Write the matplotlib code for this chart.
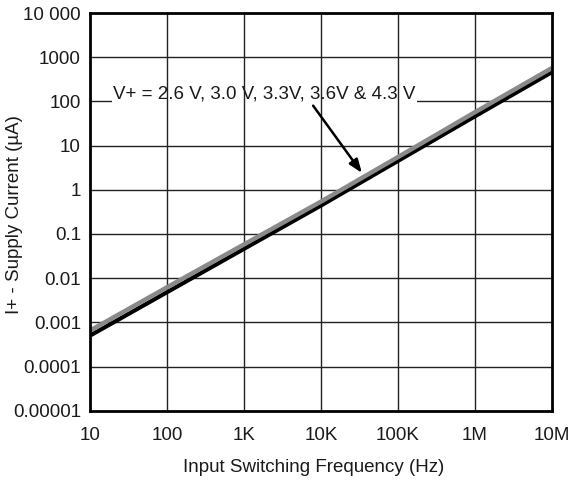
import matplotlib
matplotlib.use("Agg")
import matplotlib.pyplot as plt
from matplotlib.ticker import FixedLocator, FixedFormatter, NullLocator

plt.rcParams['font.family'] = ['Liberation Sans', 'DejaVu Sans']

freq = [10, 100, 1e3, 1e4, 1e5, 1e6, 1e7]
current_black = [5.0e-4, 4.8e-3, 0.046, 0.44, 4.5, 46, 460]
current_grey = [6.5e-4, 6.2e-3, 0.058, 0.54, 5.5, 57, 570]

xticks = [10, 100, 1e3, 1e4, 1e5, 1e6, 1e7]
xticklabels = ["10", "100", "1K", "10K", "100K", "1M", "10M"]
yticks = [1e-5, 1e-4, 1e-3, 1e-2, 1e-1, 1, 10, 100, 1000, 10000]
yticklabels = ["0.00001", "0.0001", "0.001", "0.01", "0.1", "1", "10", "100", "1000", "10 000"]

annot_text = "V+ = 2.6 V, 3.0 V, 3.3V, 3.6V & 4.3 V"

FS = 13.5
TXT = '#1a1a1a'

fig = plt.figure(figsize=(5.69, 4.83), dpi=100)
ax = fig.add_axes([90/569, 1-410.7/483, 462/569, (410.7-13)/483])
ax.set_xscale('log')
ax.set_yscale('log')
ax.set_xlim(10, 1e7)
ax.set_ylim(1e-5, 1e4)

# grid: horizontal below the label box, vertical above it
for y in yticks[1:-1]:
    ax.axhline(y, color='#222222', lw=1.0, zorder=0.5)
for x in xticks[1:-1]:
    ax.axvline(x, color='#222222', lw=1.0, zorder=1.5)

ax.plot(freq, current_black, color='black', lw=3.0, zorder=3, solid_capstyle='butt')
ax.plot(freq, current_grey, color='#8a8a8a', lw=3.2, zorder=3.1, solid_capstyle='butt')

ax.text(1820, 150, annot_text, fontsize=FS, color=TXT, ha='center', va='center', zorder=1,
        bbox=dict(facecolor='white', edgecolor='none', pad=1))
ax.annotate("", xy=(34000, 2.4), xytext=(7900, 80),
            arrowprops=dict(arrowstyle='-|>,head_length=0.8,head_width=0.3',
                            color='black', lw=1.8, shrinkA=0, shrinkB=0),
            zorder=4)

ax.xaxis.set_major_locator(FixedLocator(xticks))
ax.xaxis.set_major_formatter(FixedFormatter(xticklabels))
ax.xaxis.set_minor_locator(NullLocator())
ax.yaxis.set_major_locator(FixedLocator(yticks))
ax.yaxis.set_major_formatter(FixedFormatter(yticklabels))
ax.yaxis.set_minor_locator(NullLocator())
ax.tick_params(axis='both', length=0, labelsize=FS, colors=TXT)
ax.tick_params(axis='x', pad=11.5)
ax.tick_params(axis='y', pad=6.5)

for s in ax.spines.values():
    s.set_linewidth(2)
    s.set_color('black')
    s.set_zorder(5)

fig.text(314/569, 1-468/483, "Input Switching Frequency (Hz)", ha='center', va='center',
         fontsize=FS, color=TXT)
fig.text(15/569, 1-215/483, "I+ - Supply Current (\u00b5A)", ha='center', va='center',
         rotation=90, fontsize=FS, color=TXT)

fig.savefig("out.png", dpi=100)
